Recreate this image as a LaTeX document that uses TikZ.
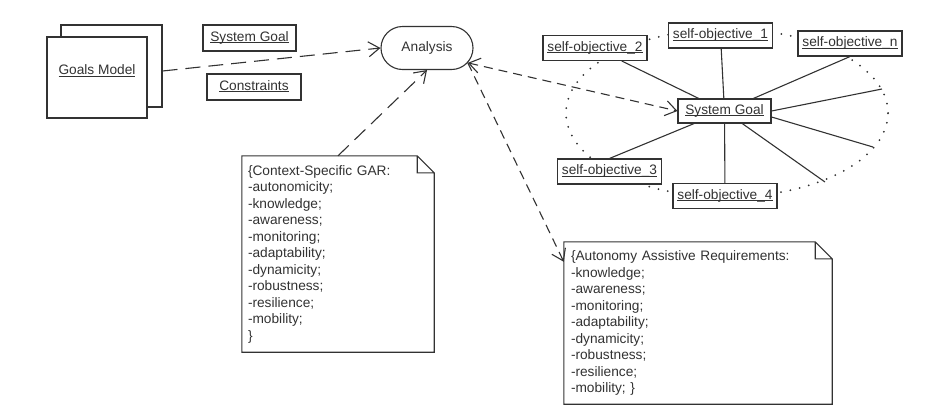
\documentclass[tikz,border=0pt]{standalone}
\usepackage{fontspec}
\setmainfont{Liberation Sans}
\usetikzlibrary{arrows.meta,shapes.misc}
\definecolor{ink}{RGB}{50,50,50}
\newcommand\ulabel[1]{\underline{\smash{#1}}\vphantom{Ag}}
\tikzset{
	uml/.style={draw=ink,line width=1.1pt,fill=white,text=ink,inner sep=0pt},
	objbox/.style={uml,minimum width=104pt,minimum height=25pt,inner xsep=2pt},
	flow/.style={draw=ink,line width=1.1pt},
	longdash/.style={flow,dash pattern=on 15pt off 8pt},
	shortdash/.style={flow,dash pattern=on 9pt off 6pt},
	notebox/.style={text=ink,align=left,inner ysep=0pt},
	>={Straight Barb[length=11pt,width=15pt]}
}
\begin{document}
\begin{tikzpicture}[x=1pt,y=-1pt,font=\fontsize{13.7}{16.5}\selectfont]
	\def \fold {17pt}%coin plie
	\useasboundingbox (0,0) rectangle (935,408);
	% ellipse des objectifs
	\draw[ink,line width=2pt,line cap=round,dash pattern=on 0pt off 9.5pt] (727,113) ellipse [x radius=161pt,y radius=84pt];
	% modele
	\node[uml,minimum width=101pt,minimum height=82pt] (gmback) at (111.5,66) {};
	\node[uml,minimum width=100pt,minimum height=81pt,label={[name=gmtxt,text=ink,yshift=6pt]center:\ulabel{Goals Model}}] (gm) at (97,77.5) {};
	\node[uml,minimum width=93pt,minimum height=26pt] (sgl) at (249.5,38) {\ulabel{System Goal}};
	\node[uml,minimum width=94pt,minimum height=26pt] (cons) at (254,87) {\ulabel{Constraints}};
	\node[uml,rounded rectangle,minimum width=92pt,minimum height=43pt] (ana) at (427,48) {Analysis};
	% objectifs
	\node[uml,minimum width=93pt,minimum height=24pt] (sg) at (724.5,111) {\ulabel{System Goal}};
	\node[objbox] (so1) at (720.5,35.5) {\ulabel{self-objective\_1}};
	\node[objbox] (so2) at (595,48) {\ulabel{self-objective\_2}};
	\node[objbox] (son) at (850,43.5) {\ulabel{self-objective\_n}};
	\node[objbox] (so3) at (609.5,171.5) {\ulabel{self-objective\_3}};
	\node[objbox] (so4) at (725,196) {\ulabel{self-objective\_4}};
	\coordinate (e1) at (882,89);
	\coordinate (e2) at (873,147);
	\coordinate (e3) at (825,182);
	\foreach \o in {so1,so2,so4,e3}{
		\draw[flow] (sg) -- (\o);
		}
	\draw[flow] (sg) -- (son.south);
	\draw[flow] (sg) -- (so3.north);
	\draw[flow] (sg.east) -- (e1);
	\draw[flow] ([yshift=-6pt]sg.east) -- (e2);
	% notes
	\node[notebox,text width=180pt,inner xsep=6pt,minimum height=196pt] (gar) at (338,254) {\{Context-Specific GAR:\\-autonomicity;\\-knowledge;\\-awareness;\\-monitoring;\\-adaptability;\\-dynamicity;\\-robustness;\\-resilience;\\-mobility;\\\}};
	\node[notebox,text width=254pt,inner xsep=7pt,minimum height=162pt] (aar) at (698,323) {\{Autonomy Assistive Requirements:\\-knowledge;\\-awareness;\\-monitoring;\\-adaptability;\\-dynamicity;\\-robustness;\\-resilience;\\-mobility; \}};
	\foreach \n in {gar,aar}{
		\draw[flow] (\n.north west) -- ([xshift=-\fold]\n.north east) -- ([yshift=-\fold]\n.north east) -- (\n.south east) -- (\n.south west) -- cycle
			([xshift=-\fold]\n.north east) |- ([yshift=-\fold]\n.north east);
		}
	% fleches
	\draw[longdash,->] ([yshift=-5pt]gmback.east) -- (ana.west);
	\draw[longdash,->] (gar.north) -- (ana.south);
	\draw[shortdash,<->] (ana.-20) -- (sg.west);
	\draw[shortdash,->] (ana.-20) -- ([yshift=-20pt]aar.north west);
\end{tikzpicture}
\end{document}
